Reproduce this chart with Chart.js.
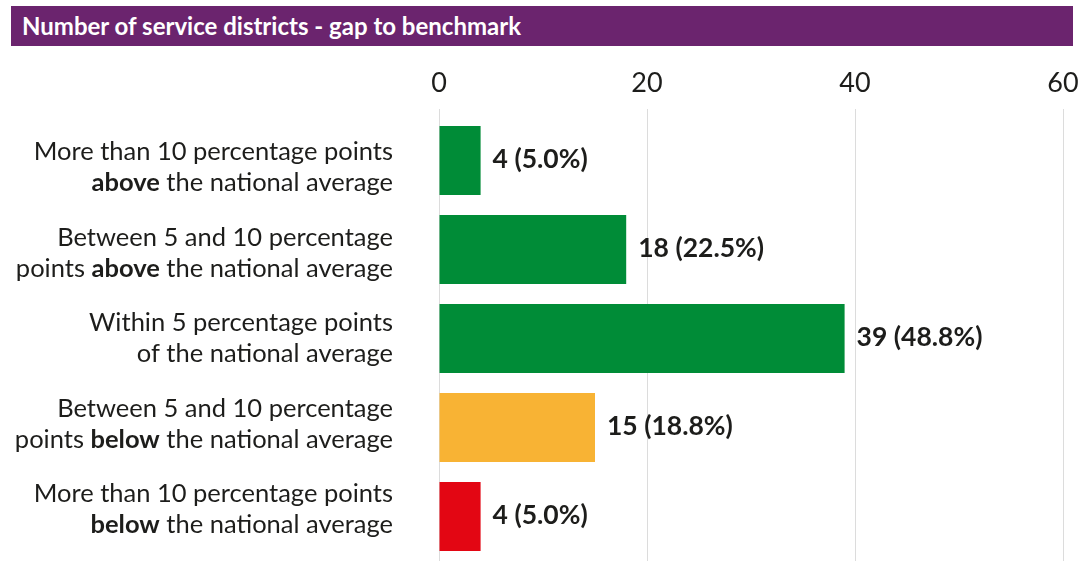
<!DOCTYPE html>
<html><head><meta charset="utf-8">
<script src="https://cdn.jsdelivr.net/npm/chart.js@4/dist/chart.umd.min.js"></script>
<style>
html,body{margin:0;padding:0;background:#fff;}
#wrap{position:relative;width:1079px;height:567px;overflow:hidden;}
#title{position:absolute;left:11px;top:6px;width:1062px;height:40px;background:#6B246E;color:#fff;font:bold 24px Lato, sans-serif;line-height:40px;padding-left:11px;box-sizing:border-box;white-space:nowrap;}
canvas{position:absolute;left:0;top:0;}
</style></head><body>
<div id="wrap"><canvas id="c" width="1079" height="567"></canvas><div id="title">Number of service districts - gap to benchmark</div></div>
<script>
const categories = [
  'More than 10 percentage points\n**above** the national average',
  'Between 5 and 10 percentage\npoints **above** the national average',
  'Within 5 percentage points\nof the national average',
  'Between 5 and 10 percentage\npoints **below** the national average',
  'More than 10 percentage points\n**below** the national average'
];
const counts = [4, 18, 39, 15, 4];
const shares = ['5.0%', '22.5%', '48.8%', '18.8%', '5.0%'];
const barColors = ['#008C37', '#008C37', '#008C37', '#F8B334', '#E30613'];
const xTicks = [0, 20, 40, 60];

const FONT = 'Lato, "Open Sans", sans-serif';
const TEXT = '#1d1d1b';

const labelPlugin = {
  id: 'labels',
  afterDraw(chart) {
    const ctx = chart.ctx;
    const ys = chart.scales.y;
    const area = chart.chartArea;
    const mid = (area.top + area.bottom) / 2;
    ctx.save();
    ctx.fillStyle = TEXT;
    ctx.textBaseline = 'middle';
    const rightX = 393, lineH = 31, size = 25.5;
    categories.forEach((cat, i) => {
      const yc = mid + (ys.getPixelForValue(i) - mid) * 0.96;
      const lines = cat.split('\n');
      const y0 = yc - (lines.length - 1) * lineH / 2;
      lines.forEach((line, li) => {
        const segs = line.split('**').map((t, k) => ({ t, b: k % 2 === 1 })).filter(s => s.t);
        let w = 0;
        segs.forEach(s => { ctx.font = (s.b ? 'bold ' : '') + size + 'px ' + FONT; s.w = ctx.measureText(s.t).width; w += s.w; });
        let x = rightX - w;
        ctx.textAlign = 'left';
        segs.forEach(s => { ctx.font = (s.b ? 'bold ' : '') + size + 'px ' + FONT; ctx.fillText(s.t, x, y0 + li * lineH); x += s.w; });
      });
    });
    const meta = chart.getDatasetMeta(0);
    ctx.font = 'bold 26.5px ' + FONT;
    ctx.textAlign = 'left';
    meta.data.forEach((el, i) => {
      ctx.fillText(counts[i] + ' (' + shares[i] + ')', el.x + 12, el.y - 1);
    });
    ctx.restore();
  }
};

new Chart(document.getElementById('c'), {
  type: 'bar',
  data: {
    labels: categories,
    datasets: [{ data: counts, backgroundColor: barColors, borderWidth: 0, barPercentage: 0.775, categoryPercentage: 1 }]
  },
  options: {
    indexAxis: 'y',
    responsive: false,
    animation: false,
    layout: { padding: { left: 0, right: 16, top: 0, bottom: 6 } },
    plugins: { legend: { display: false }, tooltip: { enabled: false } },
    scales: {
      x: {
        position: 'top', min: 0, max: 60,
        afterBuildTicks(s) { s.ticks = xTicks.map(v => ({ value: v })); },
        afterFit(s) { s.height = 116; s.paddingLeft = 0; s.paddingRight = 0; },
        ticks: { color: TEXT, font: { family: FONT, size: 27 }, padding: 10, maxRotation: 0 },
        grid: { color: '#dcdcdc', lineWidth: 1, tickLength: 7, drawTicks: true },
        border: { display: false }
      },
      y: {
        afterFit(s) { s.width = 439; },
        ticks: { display: false },
        grid: { display: false },
        border: { display: false }
      }
    }
  },
  plugins: [labelPlugin]
});
</script>
</body></html>
